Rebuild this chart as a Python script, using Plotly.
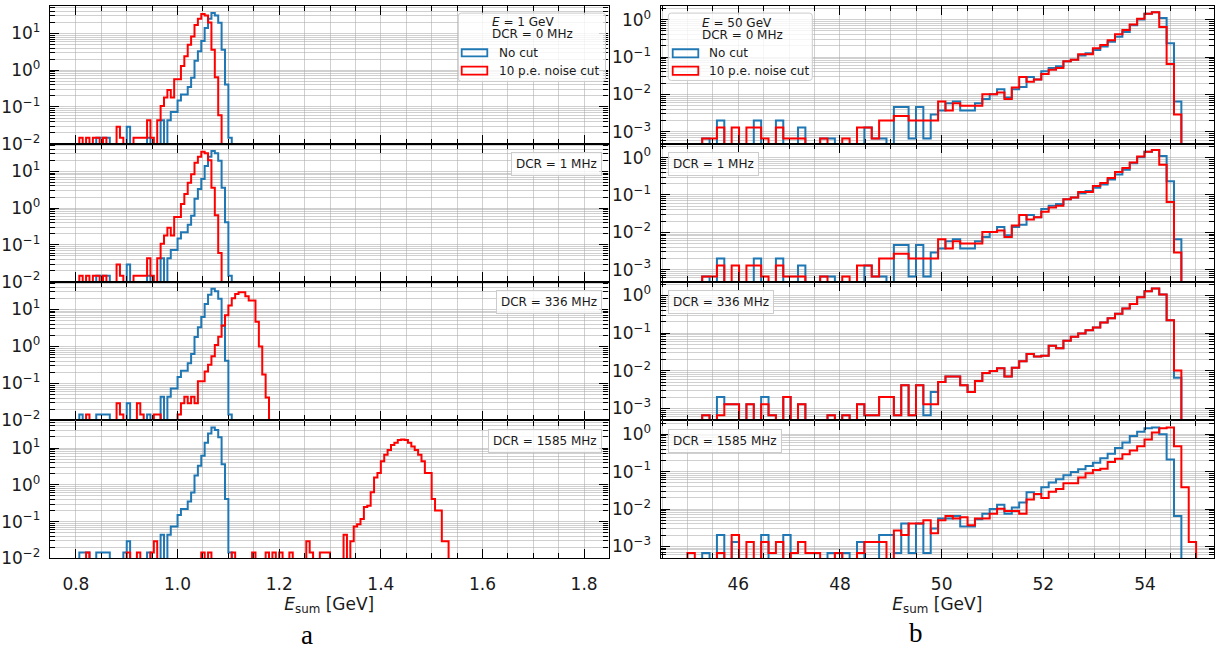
import numpy as np
import plotly.graph_objects as go

W, H = 1216, 653

# ---------------- DATA (normalised histogram contents per bin) ----------------
# E = 1 GeV runs: bins of 1/150 GeV starting at 0.8 GeV
left_start = 0.8
left_width = 1.0 / 150
# E = 50 GeV runs: bins of 0.145 GeV starting at 45 GeV
right_start = 45.0
right_width = 0.145

dcr_values = ["0", "1", "336", "1585"]
beam_energies = ["1", "50"]

# ---- E = 1 GeV ----
l0_nocut = [0, 0, 0, 0, 0, 0, .0145, .0145, .0145, .0145,
            0, 0, 0, 0, 0, .029, 0, 0, 0, 0,
            0, .0145, 0, 0, 0, .0435, 0, .0435, .073, .073,
            .15, .22, .22, .35, .62, 1.8, 3.3, 6.2, 14, 25,
            36, 31, 19.5, 3.6, .41, .0145]
l0_cut = [0, .0145, 0, .0145, 0, .0145, .0145, 0, .0145, 0,
          0, 0, .029, .0145, 0, 0, 0, .0145, .0145, .0145,
          .0145, .0435, .0145, 0, .0435, .107, .18, .29, .18, .57,
          .57, 1.3, 2.4, 4.9, 8.3, 17, 25, 34, 31, 20,
          3.6, .64, .06]

l1_nocut = [0, 0, 0, 0, 0, 0, .0145, .0145, .0145, .0145,
            0, 0, 0, 0, 0, .029, 0, 0, 0, 0,
            0, .0145, 0, 0, 0, .0435, 0, .0435, .073, .073,
            .15, .22, .22, .35, .62, 1.8, 3.3, 6.2, 14, 25,
            36, 31, 19.5, 3.6, .41, .0145]
l1_cut = [0, .0145, 0, .0145, 0, .0145, .0145, 0, .0145, 0,
          0, 0, .029, .0145, 0, 0, 0, .0145, .0145, .0145,
          .0145, .0435, .0145, 0, .0435, .107, .18, .29, .18, .57,
          .57, 1.3, 2.4, 4.9, 8.3, 17, 25, 34, 31, 20,
          3.6, .64, .06]

l336_nocut = [0, .0145, 0, 0, 0, 0, .0145, .0145, .0145, .0145,
              0, 0, 0, 0, 0, .029, 0, 0, 0, 0,
              0, .0145, 0, 0, 0, .0435, 0, .0435, .073, .073,
              .15, .22, .22, .35, .62, 1.8, 3.3, 6.2, 14, 25,
              36, 31, 19.5, 3.6, .41, .0145]
l336_cut = [0, 0, 0, .0145, 0, 0, 0, 0, 0, 0,
            0, 0, .029, .0145, 0, 0, 0, 0, .029, .0145,
            0, 0, 0, .0145, .0145, 0, 0, 0, 0, 0,
            .0145, .029, .0435, .029, .0435, .029, .115, .115, .21, .32,
            .54, 1.1, 1.83, 3.7, 6.9, 12.8, 20, 26, 29, 29,
            22.7, 17.4, 17.4, 4.6, 1.0, .174, .042]

l1585_nocut = [0, .0145, .0145, .0145, 0, 0, .0145, .0145, .0145, .0145,
               0, 0, 0, 0, .0145, .029, 0, 0, 0, 0,
               0, .0145, 0, 0, 0, .0435, 0, .0435, .073, .073,
               .15, .22, .22, .35, .62, 1.8, 3.3, 6.2, 14, 25,
               36, 31, 19.5, 3.6, .41, .0145]
l1585_cut = [0, 0, 0, .0145, 0, 0, 0, 0, 0, 0,
             0, 0, 0, 0, 0, .0145, 0, 0, .0145, 0,
             0, 0, .0145, .029, 0, 0, 0, 0, 0, 0,
             0, 0, 0, 0, 0, 0, 0, .0145, 0, .0145,
             0, 0, 0, 0, 0, 0, .0145, 0, 0, 0,
             0, 0, .0145, 0, 0, 0, .0145, 0, .0145, 0,
             .0145, 0, 0, .0145, 0, 0, 0, 0, .029, .0145,
             0, 0, .0145, .0145, .0145, 0, 0, 0, 0, .0435,
             0, .029, .073, .084, .117, .25, .27, .63, 1.57, 2.1,
             4.4, 6.6, 8.9, 12, 14, 16.5, 17, 16.5, 14, 11,
             8.9, 6.6, 4.4, 2.1, 2.1, .41, .2, .2, .029, .029]

# ---- E = 50 GeV ----
r0_nocut = [0, 0, 6.6e-4, 0, 2.0e-3, 0, 0, 0, 0, 2.0e-3,
            0, 0, 2.0e-3, 0, 0, 1.3e-3, 0, 0, 6.6e-4, 6.6e-4,
            0, 0, 0, 0, 1.3e-3, 6.6e-4, 6.6e-4, 0, 4.6e-3, 4.6e-3,
            6.6e-4, 4.6e-3, 6.6e-4, 2.9e-3, 3.7e-3, 5.8e-3, 6.5e-3, 3.7e-3, 3.7e-3, 5.8e-3,
            7.5e-3, 1.02e-2, 1.38e-2, 8.3e-3, 1.38e-2, 1.59e-2, 2.92e-2, 2.53e-2, 4.2e-2, 5.1e-2,
            5.7e-2, 7.7e-2, 8.5e-2, .111, .127, .156, .191, .258, .35, .47,
            .71, 1.02, 1.44, 1.59, 1.11, .233, 6.5e-3]
r0_cut = [0, 0, 6.6e-4, 6.6e-4, 1.3e-3, 0, 1.3e-3, 0, 1.3e-3, 1.3e-3,
          6.6e-4, 0, 1.3e-3, 6.6e-4, 6.6e-4, 6.6e-4, 0, 0, 6.6e-4, 0,
          0, 6.6e-4, 0, 1.3e-3, 1.3e-3, 6.6e-4, 2.0e-3, 2.0e-3, 2.65e-3, 2.65e-3,
          2.0e-3, 2.0e-3, 2.0e-3, 2.0e-3, 6.5e-3, 3.7e-3, 5.8e-3, 5.0e-3, 5.0e-3, 5.0e-3,
          1.02e-2, 1.02e-2, 1.12e-2, 7.5e-3, 1.53e-2, 2.92e-2, 2.2e-2, 2.53e-2, 3.55e-2, 4.6e-2,
          5.1e-2, 7.7e-2, 8.5e-2, .12, .12, .173, .21, .283, .41, .53,
          .74, 1.07, 1.44, 1.59, .64, .065, 2.9e-3]

r1_nocut = [0, 0, 6.6e-4, 0, 2.0e-3, 0, 0, 0, 0, 2.0e-3,
            0, 0, 2.0e-3, 0, 0, 1.3e-3, 0, 0, 6.6e-4, 6.6e-4,
            0, 0, 0, 0, 1.3e-3, 6.6e-4, 6.6e-4, 0, 4.6e-3, 4.6e-3,
            6.6e-4, 4.6e-3, 6.6e-4, 2.9e-3, 3.7e-3, 5.8e-3, 6.5e-3, 3.7e-3, 3.7e-3, 5.8e-3,
            7.5e-3, 1.02e-2, 1.38e-2, 8.3e-3, 1.38e-2, 1.59e-2, 2.92e-2, 2.53e-2, 4.2e-2, 5.1e-2,
            5.7e-2, 7.7e-2, 8.5e-2, .111, .127, .156, .191, .258, .35, .47,
            .71, 1.02, 1.44, 1.59, 1.11, .233, 6.5e-3]
r1_cut = [0, 0, 6.6e-4, 6.6e-4, 1.3e-3, 0, 1.3e-3, 0, 1.3e-3, 1.3e-3,
          6.6e-4, 0, 1.3e-3, 6.6e-4, 6.6e-4, 6.6e-4, 0, 0, 6.6e-4, 0,
          0, 6.6e-4, 0, 1.3e-3, 1.3e-3, 6.6e-4, 2.0e-3, 2.0e-3, 2.65e-3, 2.65e-3,
          2.0e-3, 2.0e-3, 2.0e-3, 2.0e-3, 6.5e-3, 3.7e-3, 5.8e-3, 5.0e-3, 5.0e-3, 5.0e-3,
          1.02e-2, 1.02e-2, 1.12e-2, 7.5e-3, 1.53e-2, 2.92e-2, 2.2e-2, 2.53e-2, 3.55e-2, 4.6e-2,
          5.1e-2, 7.7e-2, 8.5e-2, .12, .12, .173, .21, .283, .41, .53,
          .74, 1.07, 1.44, 1.59, .64, .065, 2.9e-3]

r336_nocut = [0, 0, 6.6e-4, 0, 2.0e-3, 1.3e-3, 1.3e-3, 0, 1.3e-3, 0,
              2.0e-3, 6.6e-4, 0, 2.0e-3, 0, 1.3e-3, 0, 0, 0, 6.6e-4,
              0, 6.6e-4, 0, 1.3e-3, 6.6e-4, 6.6e-4, 2.0e-3, 2.0e-3, 6.6e-4, 4.1e-3,
              6.6e-4, 4.1e-3, 6.6e-4, 2.75e-3, 5.0e-3, 7.1e-3, 7.1e-3, 4.1e-3, 2.75e-3, 5.35e-3,
              8.7e-3, 9.8e-3, 1.17e-2, 7.1e-3, 1.2e-2, 1.8e-2, 2.8e-2, 2.38e-2, 2.53e-2, 4.65e-2,
              4.0e-2, 6.3e-2, 8.0e-2, 9.8e-2, .12, .141, .191, .248, .33, .455,
              .60, .90, 1.30, 1.53, 1.06, .22, 6.5e-3]
r336_cut = [0, 0, 6.6e-4, 0, 6.6e-4, 1.3e-3, 1.3e-3, 0, 1.3e-3, 0,
            1.3e-3, 6.6e-4, 0, 2.0e-3, 0, 1.3e-3, 0, 0, 0, 6.6e-4,
            0, 6.6e-4, 0, 1.3e-3, 6.6e-4, 6.6e-4, 2.0e-3, 2.0e-3, 6.6e-4, 4.1e-3,
            6.6e-4, 4.1e-3, 1.3e-3, 1.3e-3, 5.0e-3, 7.1e-3, 7.1e-3, 4.1e-3, 2.75e-3, 5.35e-3,
            8.7e-3, 9.8e-3, 1.17e-2, 7.1e-3, 1.2e-2, 1.8e-2, 2.8e-2, 2.38e-2, 2.53e-2, 4.65e-2,
            4.0e-2, 6.3e-2, 8.0e-2, 9.8e-2, .12, .141, .191, .248, .33, .455,
            .60, .90, 1.30, 1.53, 1.06, .22, 1.02e-2]

r1585_nocut = [0, 0, 6.6e-4, 0, 2.0e-3, 0, 1.3e-3, 0, 0, 0,
               2.0e-3, 0, 0, 2.0e-3, 0, 0, 0, 0, 0, 6.6e-4,
               0, 6.6e-4, 0, 1.3e-3, 0, 0, 2.0e-3, 2.0e-3, 6.6e-4, 4.1e-3,
               6.6e-4, 4.1e-3, 6.6e-4, 3.0e-3, 5.6e-3, 5.6e-3, 6.5e-3, 3.4e-3, 3.4e-3, 5.35e-3,
               7.5e-3, 1.0e-2, 1.3e-2, 7.5e-3, 1.1e-2, 1.5e-2, 2.8e-2, 2.5e-2, 3.8e-2, 5.1e-2,
               6.3e-2, 8.0e-2, 9.8e-2, .115, .141, .173, .23, .3, .43, .6,
               .9, 1.17, 1.44, 1.53, 1.0, .21, 6.5e-3]
r1585_cut = [6.6e-4, 0, 0, 0, 6.6e-4, 0, 2.0e-3, 0, 1.3e-3, 0,
             1.3e-3, 6.6e-4, 1.3e-3, 0, 6.6e-4, 1.3e-3, 6.6e-4, 6.6e-4, 0, 0,
             6.6e-4, 0, 0, 6.6e-4, 1.3e-3, 1.3e-3, 1.3e-3, 0, 2.65e-3, 2.0e-3,
             4.1e-3, 4.1e-3, 5.0e-3, 2.25e-3, 5.0e-3, 6.5e-3, 5.6e-3, 6.0e-3, 3.7e-3, 5.6e-3,
             5.6e-3, 7.5e-3, 1.02e-2, 8.8e-3, 8.8e-3, 7.5e-3, 1.8e-2, 2.53e-2, 1.97e-2, 2.9e-2,
             3.45e-2, 4.9e-2, 4.9e-2, 7.0e-2, 9.1e-2, .111, .12, .18, .22, .29,
             .37, .48, .72, 1.11, 1.44, 1.53, .48, 3.8e-2, 1.3e-3]

left_series = [(l0_nocut, l0_cut), (l1_nocut, l1_cut), (l336_nocut, l336_cut), (l1585_nocut, l1585_cut)]
right_series = [(r0_nocut, r0_cut), (r1_nocut, r1_cut), (r336_nocut, r336_cut), (r1585_nocut, r1585_cut)]

left_yticks = [0.01, 0.1, 1, 10]
left_yticktext = ["10<sup>\u22122</sup>", "10<sup>\u22121</sup>", "10<sup>0</sup>", "10<sup>1</sup>"]
right_yticks = [0.001, 0.01, 0.1, 1]
right_yticktext = ["10<sup>\u22123</sup>", "10<sup>\u22122</sup>", "10<sup>\u22121</sup>", "10<sup>0</sup>"]

# ---------------- STYLE / LAYOUT ----------------
BLUE = "#1f77b4"
RED = "#ff0000"
GRID = "rgba(170,170,170,0.55)"
FONT = "DejaVu Sans"
FLOOR = 1e-7

row_top_px = [6.0, 146.0, 286.0, 427.0]
row_bot_px = [146.0, 286.0, 427.0, 567.0]
col_px = [(50.0, 608.5), (660.7, 1214.0)]


def px_x(p):
    return p / W


def px_y(p):
    return 1 - p / H


def step_xy(start, width, vals):
    v = np.asarray(vals, dtype=float)
    n = len(v)
    edges = start + width * np.arange(n + 1)
    v = np.where(v > 0, v, FLOOR)
    x = np.concatenate([[edges[0]], edges[:-1], [edges[-1], edges[-1]]])
    y = np.concatenate([[FLOOR], v, [v[-1], FLOOR]])
    return x, y


minor_log = [m * 10.0 ** e for e in range(-4, 2) for m in range(2, 10)]

fig = go.Figure()
layout = {}

for r in range(4):
    for c in range(2):
        k = r * 2 + c + 1
        xa = "x" if k == 1 else f"x{k}"
        ya = "y" if k == 1 else f"y{k}"
        xkey = "xaxis" if k == 1 else f"xaxis{k}"
        ykey = "yaxis" if k == 1 else f"yaxis{k}"
        if c == 0:
            nocut, cut = left_series[r]
            start, width = left_start, left_width
        else:
            nocut, cut = right_series[r]
            start, width = right_start, right_width
        for vals, col, name in ((nocut, BLUE, "No cut"), (cut, RED, "10 p.e. noise cut")):
            x, y = step_xy(start, width, vals)
            fig.add_trace(go.Scatter(x=x, y=y, mode="lines", line=dict(color=col, width=2, shape="hv"),
                                     xaxis=xa, yaxis=ya, showlegend=False, name=name, hoverinfo="skip"))

        common = dict(showline=True, linecolor="black", linewidth=1.4, mirror="ticks",
                      ticks="inside", tickcolor="black", tickwidth=1.3, ticklen=9,
                      showgrid=True, gridcolor=GRID, gridwidth=1, zeroline=False,
                      tickfont=dict(family=FONT, size=17, color="#1a1a1a"))
        xdom = [px_x(col_px[c][0]), px_x(col_px[c][1])]
        ydom = [px_y(row_bot_px[r]), px_y(row_top_px[r])]
        if c == 0:
            xcfg = dict(range=[0.749, 1.848], tickmode="linear", tick0=0.8, dtick=0.2, tickformat=".1f",
                        minor=dict(tickmode="linear", tick0=0.8, dtick=0.05, ticks="inside", ticklen=5,
                                   tickwidth=1.1, tickcolor="black", showgrid=True, gridcolor=GRID, gridwidth=1))
            ycfg = dict(type="log", range=[-2.0, 1.75], tickmode="array", tickvals=left_yticks,
                        ticktext=left_yticktext)
        else:
            xcfg = dict(range=[44.474, 55.357], tickmode="linear", tick0=46, dtick=2,
                        minor=dict(tickmode="linear", tick0=45, dtick=0.5, ticks="inside", ticklen=5,
                                   tickwidth=1.1, tickcolor="black", showgrid=True, gridcolor=GRID, gridwidth=1))
            ycfg = dict(type="log", range=[-3.32, 0.37], tickmode="array", tickvals=right_yticks,
                        ticktext=right_yticktext)
        ycfg["minor"] = dict(tickmode="array", tickvals=minor_log, ticks="inside", ticklen=5, tickwidth=1.1,
                             tickcolor="black", showgrid=True, gridcolor=GRID, gridwidth=1)
        xcfg.update(common)
        ycfg.update(common)
        xcfg.update(domain=xdom, anchor=ya, showticklabels=(r == 3), ticklabelstandoff=10)
        ycfg.update(domain=ydom, anchor=xa, ticklabelstandoff=5)
        if r == 3:
            xcfg["title"] = dict(text="<i>E</i><sub>sum</sub> [GeV]", font=dict(family=FONT, size=17, color="#1a1a1a"),
                                 standoff=0)
        layout[xkey] = xcfg
        layout[ykey] = ycfg

shapes = []
annotations = []


def rounded_rect(x0, y0, x1, y1, rad):
    X, Y = px_x, px_y
    return (f"M {X(x0 + rad)},{Y(y0)} L {X(x1 - rad)},{Y(y0)} Q {X(x1)},{Y(y0)} {X(x1)},{Y(y0 + rad)} "
            f"L {X(x1)},{Y(y1 - rad)} Q {X(x1)},{Y(y1)} {X(x1 - rad)},{Y(y1)} "
            f"L {X(x0 + rad)},{Y(y1)} Q {X(x0)},{Y(y1)} {X(x0)},{Y(y1 - rad)} "
            f"L {X(x0)},{Y(y0 + rad)} Q {X(x0)},{Y(y0)} {X(x0 + rad)},{Y(y0)} Z")


def text(x, y, s, size=12, anchor="left", family=FONT, color="#1a1a1a"):
    annotations.append(dict(x=px_x(x), y=px_y(y), xref="paper", yref="paper", text=s, showarrow=False,
                            xanchor=anchor, yanchor="middle", font=dict(family=family, size=size, color=color)))


def legend_block(box, title_x, title_ys, energy, patch_x, rows, text_x):
    shapes.append(dict(type="path", path=rounded_rect(*box, 3), xref="paper", yref="paper",
                       fillcolor="rgba(255,255,255,0.8)", line=dict(color="#cccccc", width=1), layer="above"))
    text(title_x, title_ys[0], f"<i>E</i> = {energy} GeV")
    text(title_x, title_ys[1], f"DCR = {dcr_values[0]} MHz")
    for (y0, y1, ty), col, lab in zip(rows, (BLUE, RED), ("No cut", "10 p.e. noise cut")):
        shapes.append(dict(type="rect", x0=px_x(patch_x[0]), x1=px_x(patch_x[1]), y0=px_y(y1), y1=px_y(y0),
                           xref="paper", yref="paper", fillcolor="rgba(0,0,0,0)",
                           line=dict(color=col, width=1.8), layer="above"))
        text(text_x, ty, lab)


legend_block((458.3, 13.3, 605.5, 82.7), 490, (22.7, 35.0), beam_energies[0], (461.7, 487.3),
             [(50.0, 57.3, 53.7), (67.7, 75.7, 71.7)], 496.7)
legend_block((668.3, 13.3, 812.3, 81.7), 700, (23.3, 36.0), beam_energies[1], (672.7, 698.3),
             [(50.0, 58.3, 54.0), (67.7, 76.0, 72.0)], 706.7)

for r in range(1, 4):
    for c in range(2):
        top = row_top_px[r] + 8.3
        annotations.append(dict(x=px_x(601.7 if c == 0 else 668.3), y=px_y(top), xref="paper", yref="paper",
                                xanchor="right" if c == 0 else "left", yanchor="top", showarrow=False,
                                text=f"DCR = {dcr_values[r]} MHz", font=dict(family=FONT, size=12, color="#1a1a1a"),
                                bgcolor="rgba(255,255,255,0.8)", bordercolor="#cccccc", borderwidth=1, borderpad=4))

text(307, 645, "a", size=27, anchor="center", family="Liberation Serif", color="black")
text(916, 643, "b", size=27, anchor="center", family="Liberation Serif", color="black")

fig.update_layout(width=W, height=H, margin=dict(l=0, r=0, t=0, b=0), paper_bgcolor="white",
                  plot_bgcolor="white", showlegend=False, shapes=shapes, annotations=annotations,
                  font=dict(family=FONT), **layout)

fig.write_html("out.html", config={"displayModeBar": False},
               post_script="document.body.style.margin='0px';document.body.style.padding='0px';"
                           "document.documentElement.style.overflow='hidden';")
